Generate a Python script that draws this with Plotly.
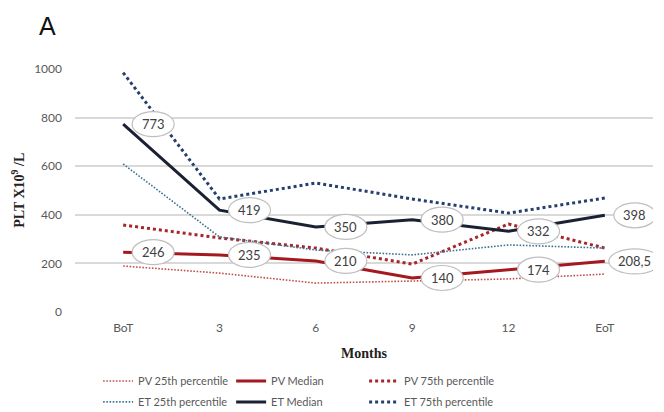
import plotly.graph_objects as go

categories = ["BoT", "3", "6", "9", "12", "EoT"]
pv_p25 = [189, 160, 119, 128, 136, 156]
pv_median = [246, 235, 210, 140, 174, 208.5]
pv_p75 = [358, 305, 263, 197, 362, 263]
et_p25 = [609, 309, 255, 235, 276, 263]
et_median = [773, 419, 350, 380, 332, 398]
et_p75 = [985, 465, 531, 465, 407, 469]
median_labels_pv = ["246", "235", "210", "140", "174", "208,5"]
median_labels_et = ["773", "419", "350", "380", "332", "398"]

xi = list(range(len(categories)))

series = [
    ("PV 25th percentile", pv_p25, "#c0504d", 1.6, "1.6px,1.6px", "legend"),
    ("PV Median", pv_median, "#a3191f", 3, "solid", "legend"),
    ("PV 75th percentile", pv_p75, "#a8262b", 3, "dot", "legend"),
    ("ET 25th percentile", et_p25, "#3d7490", 1.6, "1.6px,1.6px", "legend2"),
    ("ET Median", et_median, "#1a2133", 3, "solid", "legend2"),
    ("ET 75th percentile", et_p75, "#26406e", 3, "dot", "legend2"),
]

fig = go.Figure()
for name, vals, color, w, dash, leg in series:
    fig.add_trace(go.Scatter(
        x=xi, y=vals, mode="lines", name=name,
        line=dict(color=color, width=w, dash=dash),
        legend=leg,
    ))

for vals, labels in ((pv_median, median_labels_pv), (et_median, median_labels_et)):
    for i, (v, lab) in enumerate(zip(vals, labels)):
        half = 26 if len(lab) > 3 else 21
        fig.add_shape(type="circle", xref="x", yref="y",
                      xsizemode="pixel", ysizemode="pixel",
                      xanchor=i, yanchor=v,
                      x0=30 - half, x1=30 + half, y0=-12.5, y1=12.5,
                      line=dict(color="#bfbfbf", width=1.2),
                      fillcolor="white", layer="above")
        fig.add_annotation(x=i, y=v, xref="x", yref="y", text=lab,
                           showarrow=False, xshift=30,
                           font=dict(family="Lato, Open Sans, sans-serif",
                                     size=13, color="#404040"))

fig.add_annotation(text="A", xref="paper", yref="paper", x=-0.065, y=1.175,
                   xanchor="left", yanchor="middle", showarrow=False,
                   font=dict(family="Liberation Sans, Arial, sans-serif", size=25, color="#111111"))
fig.add_annotation(text="<b>PLT X10<sup>9</sup> /L</b>", xref="paper", yref="paper",
                   x=-0.1, y=0.5, textangle=-90, showarrow=False,
                   xanchor="center", yanchor="middle",
                   font=dict(family="Liberation Serif, Times New Roman, serif", size=14, color="#222222"))
fig.add_annotation(text="<b>Months</b>", xref="paper", yref="paper",
                   x=0.5, y=-0.17, showarrow=False, xanchor="center", yanchor="middle",
                   font=dict(family="Liberation Serif, Times New Roman, serif", size=14, color="#222222"))

legfont = dict(family="Lato, Open Sans, sans-serif", size=11, color="#595959")
common_leg = dict(orientation="h", xref="paper", yref="paper",
                  yanchor="middle", xanchor="left",
                  entrywidth=88, entrywidthmode="pixels", font=legfont,
                  traceorder="normal", itemwidth=30, tracegroupgap=0,
                  bgcolor="rgba(0,0,0,0)")
fig.update_layout(
    width=656, height=404,
    margin=dict(l=67, r=11, t=61, b=100, autoexpand=False),
    paper_bgcolor="white", plot_bgcolor="white",
    showlegend=True,
    legend=dict(common_leg, x=0.04, y=-0.284),
    legend2=dict(common_leg, x=0.04, y=-0.37),
    xaxis=dict(range=[-0.5, 5.5], tickvals=xi, ticktext=categories,
               showgrid=False, zeroline=False, showline=False, ticks="",
               ticklabelstandoff=7, automargin=False,
               tickfont=dict(family="Lato, Open Sans, sans-serif", size=12, color="#595959")),
    yaxis=dict(range=[0, 1000], dtick=200, showgrid=True, gridcolor="#d9d9d9", gridwidth=1.5,
               zeroline=False, showline=False, ticks="", ticklabelstandoff=12, automargin=False,
               tickfont=dict(family="Lato, Open Sans, sans-serif", size=12, color="#595959")),
)

fig.write_html("out.html")
